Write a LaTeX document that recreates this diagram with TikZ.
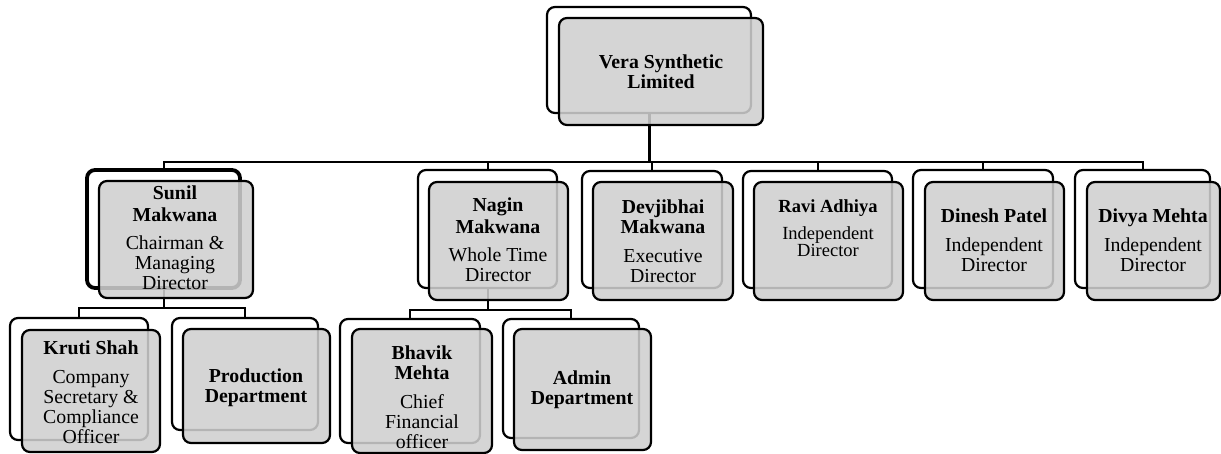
\documentclass[tikz,border=0pt]{standalone}
\usepackage{fontspec}
\setmainfont{Liberation Serif}
\usetikzlibrary{backgrounds}
\begin{document}
\begin{tikzpicture}[x=1pt,y=-1pt,
  backbox/.style={draw=black, line width=2.2pt, rounded corners=8pt, fill=white, inner sep=0pt},
  frontbox/.style={draw=black, line width=2.2pt, rounded corners=8pt, fill=black!19, fill opacity=0.87, draw opacity=1, inner sep=0pt},
  lbl/.style={align=center, font=\fontsize{19.8}{20}\selectfont, inner sep=0pt},
  conn/.style={line width=2pt}]
\useasboundingbox (0,0) rectangle (1221,454);
% back boxes
\node[backbox, minimum width=204pt, minimum height=106pt] (btop) at (649,60) {};
\node[backbox, line width=3.8pt, minimum width=153pt, minimum height=118pt] (bsunil) at (163.5,229) {};
\node[backbox, minimum width=139pt, minimum height=118pt] (bnagin) at (487.5,229) {};
\node[backbox, minimum width=140pt, minimum height=117pt] (bdevj) at (652,229.5) {};
\node[backbox, minimum width=149pt, minimum height=117pt] (bravi) at (817.5,229.5) {};
\node[backbox, minimum width=140pt, minimum height=118pt] (bdinesh) at (983,229) {};
\node[backbox, minimum width=135pt, minimum height=118pt] (bdivya) at (1142.5,229) {};
\node[backbox, minimum width=138pt, minimum height=122pt] (bkruti) at (79,379) {};
\node[backbox, minimum width=146pt, minimum height=112pt] (bprod) at (245,374) {};
\node[backbox, minimum width=140pt, minimum height=124pt] (bbhavik) at (410,381) {};
\node[backbox, minimum width=136pt, minimum height=119pt] (badmin) at (571,378.5) {};
% connectors
\coordinate (bus) at (649,162);
\coordinate (sbus) at (163.5,308);
\coordinate (nbus) at (487.5,310);
\begin{scope}[on background layer]
\draw[line width=3pt] (btop.south) -- (bus);
\foreach \c in {bsunil,bnagin,bdevj,bravi,bdinesh,bdivya}
  \draw[conn] (bus) -| (\c.north);
\draw[conn] (bsunil.south) -- (sbus);
\draw[conn] (sbus) -| (bkruti.north);
\draw[conn] (sbus) -| (bprod.north);
\draw[conn] (bnagin.south) -- (nbus);
\draw[conn] (nbus) -| (bbhavik.north);
\draw[conn] (nbus) -| (badmin.north);
\end{scope}
% front boxes
\node[frontbox, minimum width=204pt, minimum height=107pt] (ftop) at (661,71.5) {};
\node[frontbox, minimum width=154pt, minimum height=117pt] (fsunil) at (176,239.5) {};
\node[frontbox, minimum width=139pt, minimum height=118pt] (fnagin) at (498.5,241) {};
\node[frontbox, minimum width=140pt, minimum height=118pt] (fdevj) at (663,241) {};
\node[frontbox, minimum width=149pt, minimum height=118pt] (fravi) at (828.5,241) {};
\node[frontbox, minimum width=139pt, minimum height=118pt] (fdinesh) at (994.5,241) {};
\node[frontbox, minimum width=133pt, minimum height=118pt] (fdivya) at (1153.5,241) {};
\node[frontbox, minimum width=138pt, minimum height=122pt] (fkruti) at (91,391) {};
\node[frontbox, minimum width=147pt, minimum height=114pt] (fprod) at (256.5,386) {};
\node[frontbox, minimum width=140pt, minimum height=124pt] (fbhavik) at (422,391) {};
\node[frontbox, minimum width=137pt, minimum height=121pt] (fadmin) at (582.5,389.5) {};
% texts
\node[lbl] (ttop) at (661,72) {\textbf{Vera Synthetic}\\\textbf{Limited}};
\node[lbl] (tsunil) at (175,238) {\textbf{Sunil}\\[2pt]\textbf{Makwana}\\[8pt]Chairman \&\\Managing\\Director};
\node[lbl] (tnagin) at (498,240) {\textbf{Nagin}\\[2pt]\textbf{Makwana}\\[8pt]Whole Time\\Director};
\node[lbl] (tdevj) at (663,241) {\textbf{Devjibhai}\\\textbf{Makwana}\\[9pt]Executive\\Director};
\node[lbl, font=\fontsize{18.5}{17}\selectfont] (travi) at (828,228) {\textbf{Ravi Adhiya}\\[10pt]Independent\\Director};
\node[lbl] (tdinesh) at (994,240) {\textbf{Dinesh Patel}\\[9pt]Independent\\Director};
\node[lbl] (tdivya) at (1153,240) {\textbf{Divya Mehta}\\[9pt]Independent\\Director};
\node[lbl] (tkruti) at (91,392) {\textbf{Kruti Shah}\\[9pt]Company\\Secretary \&\\Compliance\\Officer};
\node[lbl] (tprod) at (256,388) {\textbf{Production}\\\textbf{Department}};
\node[lbl] (tbhavik) at (422,397) {\textbf{Bhavik}\\\textbf{Mehta}\\[9pt]Chief\\Financial\\officer};
\node[lbl] (tadmin) at (582,390) {\textbf{Admin}\\\textbf{Department}};
\end{tikzpicture}
\end{document}
